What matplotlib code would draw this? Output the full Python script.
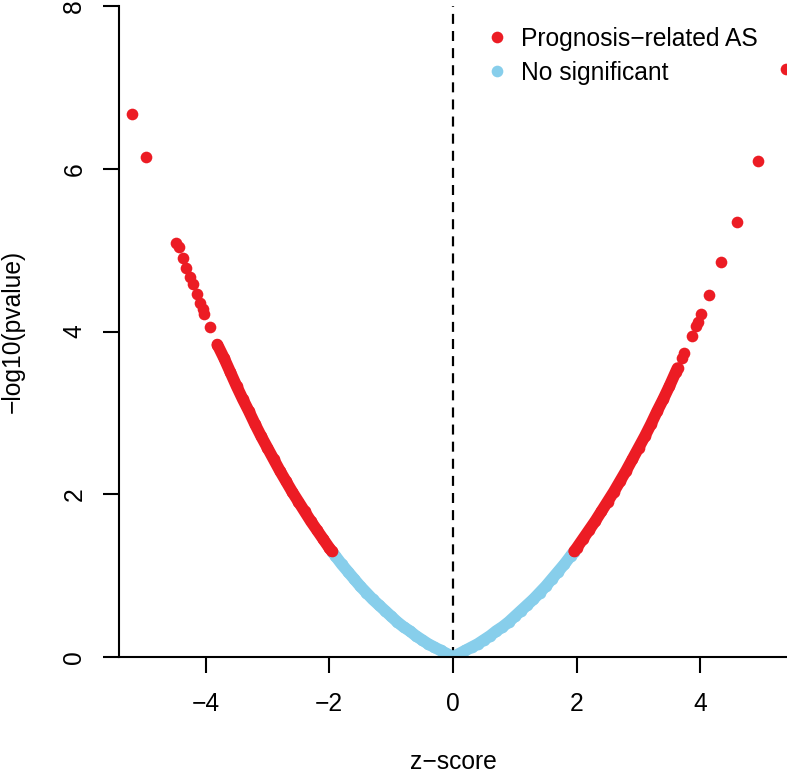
import matplotlib
matplotlib.use('Agg')
import matplotlib.pyplot as plt
from matplotlib.lines import Line2D

plt.rcParams['font.family'] = ['Liberation Sans', 'DejaVu Sans']

# values
# non-significant part of the curve (dense, drawn as a band)
ns_z = [-1.95, -1.9, -1.8, -1.7, -1.6, -1.5, -1.4, -1.3, -1.2, -1.1, -1.0,
        -0.9, -0.8, -0.7, -0.6, -0.5, -0.4, -0.3, -0.2, -0.1, 0.0,
        0.1, 0.2, 0.3, 0.4, 0.5, 0.6, 0.7, 0.8, 0.9, 1.0,
        1.1, 1.2, 1.3, 1.4, 1.5, 1.6, 1.7, 1.8, 1.9, 1.95]
ns_y = [1.29, 1.24, 1.14, 1.05, 0.96, 0.87, 0.79, 0.71, 0.64, 0.57, 0.50,
        0.43, 0.37, 0.32, 0.26, 0.21, 0.16, 0.12, 0.08, 0.04, 0.0,
        0.04, 0.08, 0.12, 0.16, 0.21, 0.26, 0.32, 0.37, 0.43, 0.50,
        0.57, 0.64, 0.71, 0.79, 0.87, 0.96, 1.05, 1.14, 1.24, 1.29]

# dense prognosis-related parts
sig_left_z = [-3.81, -3.7, -3.6, -3.5, -3.4, -3.3, -3.2, -3.1, -3.0, -2.9,
              -2.8, -2.7, -2.6, -2.5, -2.4, -2.3, -2.2, -2.1, -2.0, -1.96]
sig_left_y = [3.84, 3.67, 3.50, 3.33, 3.17, 3.02, 2.86, 2.71, 2.57, 2.43,
              2.29, 2.16, 2.03, 1.91, 1.79, 1.67, 1.56, 1.45, 1.34, 1.30]
sig_right_z = [1.96, 2.0, 2.1, 2.2, 2.3, 2.4, 2.5, 2.6, 2.7, 2.8, 2.9,
               3.0, 3.1, 3.2, 3.3, 3.4, 3.5, 3.6, 3.63]
sig_right_y = [1.30, 1.34, 1.45, 1.56, 1.67, 1.79, 1.91, 2.03, 2.16, 2.29, 2.43,
               2.57, 2.71, 2.86, 3.02, 3.17, 3.33, 3.50, 3.55]

# scattered prognosis-related events
sig_pts_z = [-5.19, -4.96, -4.48, -4.43, -4.37, -4.31, -4.26, -4.20, -4.14,
             -4.09, -4.05, -4.02, -3.93,
             3.70, 3.74, 3.86, 3.93, 3.96, 4.01, 4.14, 4.34, 4.59, 4.93, 5.39]
sig_pts_y = [6.67, 6.15, 5.09, 5.04, 4.90, 4.78, 4.67, 4.58, 4.46,
             4.35, 4.28, 4.22, 4.05,
             3.67, 3.73, 3.94, 4.07, 4.12, 4.21, 4.45, 4.86, 5.34, 6.09, 7.22]

legend_labels = ['Prognosis\u2212related AS', 'No significant']

red = '#EC1C24'
blue = '#87CEEB'
dot = 8.4  # marker size in points (~11-12 px)
fs = 17.7

fig = plt.figure(figsize=(7.87, 7.77), dpi=100)
ax = fig.add_axes([119 / 787, 1 - 657 / 777, (787 - 119) / 787, (657 - 6) / 777])

# dense parts: dots joined by a band of the same width
ax.plot(ns_z, ns_y, '-o', color=blue, lw=dot, ms=dot, mew=0,
        solid_capstyle='round')
ax.plot(sig_left_z, sig_left_y, '-o', color=red, lw=dot, ms=dot, mew=0,
        solid_capstyle='round')
ax.plot(sig_right_z, sig_right_y, '-o', color=red, lw=dot, ms=dot, mew=0,
        solid_capstyle='round')
ax.plot(sig_pts_z, sig_pts_y, 'o', color=red, ms=dot, mew=0)

ax.axvline(0, color='black', lw=1.6, ls=(0, (4.5, 3.2)), zorder=0)

ax.set_xlim(-5.4, 5.4)
ax.set_ylim(0, 8)
ax.set_xticks([-4, -2, 0, 2, 4])
ax.set_yticks([0, 2, 4, 6, 8])
ax.set_xticklabels(['\u22124', '\u22122', '0', '2', '4'])
ax.tick_params(direction='out', length=11.5, width=1.5, labelsize=fs)
ax.tick_params(axis='x', pad=14)
ax.tick_params(axis='y', pad=12)
plt.setp(ax.get_yticklabels(), rotation=90, va='center')

for s in ['top', 'right']:
    ax.spines[s].set_visible(False)
for s in ['left', 'bottom']:
    ax.spines[s].set_linewidth(1.5)

ax.set_xlabel('z\u2212score', fontsize=fs, labelpad=24)
ax.set_ylabel('\u2212log10(pvalue)', fontsize=fs, labelpad=27)

handles = [Line2D([], [], ls='', marker='o', color=red, ms=dot, mew=0),
           Line2D([], [], ls='', marker='o', color=blue, ms=dot, mew=0)]
ax.legend(handles, legend_labels, loc='upper left', frameon=False,
          bbox_to_anchor=(482 / 787, 1 - 27 / 777), bbox_transform=fig.transFigure,
          fontsize=fs, handletextpad=0.4, labelspacing=0.4, borderpad=0,
          borderaxespad=0, handlelength=1.2)

fig.savefig('out.png', dpi=100)
